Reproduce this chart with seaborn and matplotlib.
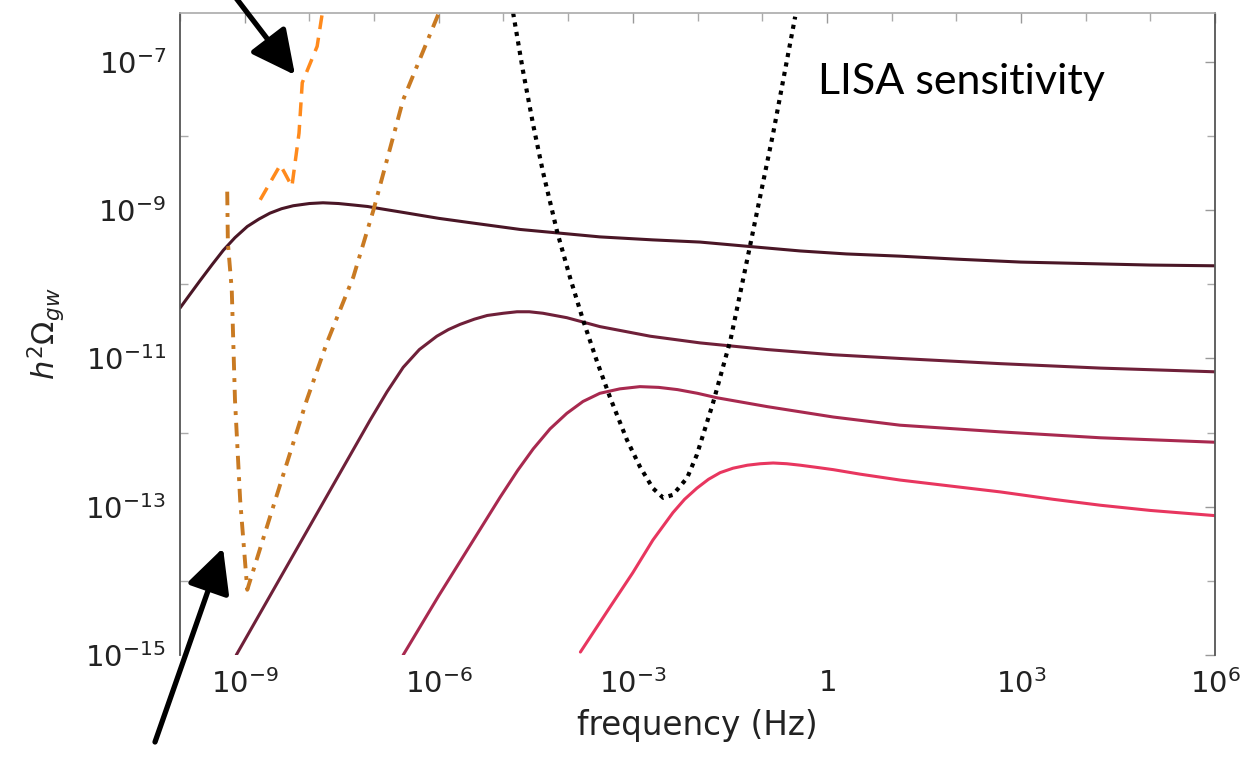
import numpy as np
import pandas as pd
import matplotlib
matplotlib.use("Agg")
import matplotlib.pyplot as plt
import seaborn as sns

# ---------------- data (log10 of frequency [Hz] and of h^2 Omega_gw) ----------------
c1_logf = [-10.0, -9.85, -9.69, -9.5, -9.33, -9.15, -8.96, -8.78, -8.61, -8.43, -8.25, -8.0,
           -7.79, -7.55, -7.32, -7.1, -6.9, -6.55, -6.0, -5.5, -4.74, -4.0, -3.51, -2.7, -1.96,
           -1.19, -0.41, 0.3, 1.13, 2.0, 3.0, 4.0, 5.0, 6.0]
c1_logO = [-10.32, -10.14, -9.95, -9.73, -9.54, -9.37, -9.22, -9.12, -9.04, -8.98, -8.94, -8.91,
           -8.90, -8.91, -8.93, -8.95, -8.98, -9.03, -9.11, -9.17, -9.26, -9.32, -9.36, -9.40, -9.43,
           -9.49, -9.55, -9.59, -9.62, -9.66, -9.70, -9.72, -9.74, -9.75]

c2_logf = [-9.13, -8.0, -7.06, -6.8, -6.55, -6.3, -6.03, -5.85, -5.67, -5.45, -5.25, -5.0,
           -4.79, -4.6, -4.39, -4.02, -3.51, -2.73, -1.96, -0.92, 0.10, 1.13, 2.68, 4.23, 6.0]
c2_logO = [-15.0, -13.27, -11.83, -11.45, -11.12, -10.88, -10.70, -10.61, -10.54, -10.47, -10.42,
           -10.39, -10.37, -10.37, -10.39, -10.45, -10.57, -10.70, -10.79, -10.88, -10.95, -11.0,
           -11.07, -11.13, -11.18]

c3_logf = [-6.55, -6.0, -5.5, -5.05, -4.78, -4.54, -4.28, -4.02, -3.77, -3.51, -3.2, -2.89,
           -2.6, -2.31, -2.0, -1.70, -0.92, 0.10, 1.13, 2.68, 4.23, 6.0]
c3_logO = [-15.0, -14.2, -13.5, -12.87, -12.51, -12.22, -11.95, -11.74, -11.58, -11.47, -11.41,
           -11.38, -11.39, -11.42, -11.47, -11.53, -11.65, -11.79, -11.90, -11.99, -12.07, -12.13]

c4_logf = [-3.81, -3.35, -3.0, -2.69, -2.38, -2.2, -2.01, -1.83, -1.65, -1.45, -1.23, -1.03,
           -0.83, -0.62, -0.41, -0.15, 0.10, 0.51, 1.13, 2.0, 2.68, 3.5, 4.23, 5.0, 6.0]
c4_logO = [-14.96, -14.35, -13.89, -13.45, -13.08, -12.90, -12.75, -12.63, -12.54, -12.48,
           -12.44, -12.42, -12.41, -12.42, -12.44, -12.47, -12.50, -12.56, -12.64, -12.73,
           -12.80, -12.90, -12.98, -13.05, -13.12]

lisa_logf = [-4.85, -4.70, -4.54, -4.39, -4.17, -3.97, -3.77, -3.55, -3.35, -3.09, -2.89, -2.69,
             -2.53, -2.38, -2.16, -2.01, -1.76, -1.49, -1.19, -0.83, -0.49]
lisa_logO = [-6.34, -7.11, -7.85, -8.48, -9.29, -9.91, -10.48, -11.05, -11.53, -12.10, -12.46,
             -12.75, -12.88, -12.84, -12.61, -12.30, -11.60, -10.75, -9.49, -7.96, -6.39]

pta_logf = [-8.76, -8.45, -8.38, -8.27, -8.16, -8.11, -7.88, -7.80]
pta_logO = [-8.86, -8.39, -8.50, -8.68, -7.96, -7.28, -6.79, -6.34]

pta2_logf = [-9.27, -9.26, -9.20, -9.15, -9.07, -8.96, -8.61, -8.04, -7.73, -7.32, -7.01, -6.55, -5.98]
pta2_logO = [-8.75, -9.44, -10.07, -11.56, -12.91, -14.12, -13.14, -11.56, -10.79, -9.90, -9.00,
             -7.51, -6.30]

x_tick_values = [1e-9, 1e-6, 1e-3, 1, 1e3, 1e6]
x_tick_labels = [r"$10^{-9}$", r"$10^{-6}$", r"$10^{-3}$", r"$1$", r"$10^{3}$", r"$10^{6}$"]
y_tick_values = [1e-15, 1e-13, 1e-11, 1e-9, 1e-7]
y_tick_labels = [r"$10^{-15}$", r"$10^{-13}$", r"$10^{-11}$", r"$10^{-9}$", r"$10^{-7}$"]
x_label = "frequency (Hz)"
y_label = r"$h^2\Omega_{gw}$"
annotation_text = "LISA sensitivity"

# ---------------- figure ----------------
sns.set_style("white")
plt.rcParams["font.family"] = ["DejaVu Sans"]
plt.rcParams["mathtext.fontset"] = "dejavusans"

fig = plt.figure(figsize=(12.49, 7.57), dpi=100)
ax = fig.add_axes([180 / 1249, 1 - 655 / 757, (1215 - 180) / 1249, (655 - 13) / 757])


def to_df(lf, lo):
    return pd.DataFrame({"f": np.power(10.0, lf), "omega": np.power(10.0, lo)})


curves = [
    (c1_logf, c1_logO, "#4a1626"),
    (c2_logf, c2_logO, "#6f2039"),
    (c3_logf, c3_logO, "#a8294f"),
    (c4_logf, c4_logO, "#e8365f"),
]
for lf, lo, col in curves:
    sns.lineplot(data=to_df(lf, lo), x="f", y="omega", sort=False, color=col, lw=2.2, ax=ax)

sns.lineplot(data=to_df(lisa_logf, lisa_logO), x="f", y="omega", sort=False, color="black",
             lw=3.0, ls=(0, (1, 1.3)), ax=ax)
sns.lineplot(data=to_df(pta_logf, pta_logO), x="f", y="omega", sort=False, color="#ff8a1c",
             lw=2.5, ls=(0, (4, 2.5)), ax=ax)
sns.lineplot(data=to_df(pta2_logf, pta2_logO), x="f", y="omega", sort=False, color="#c97a22",
             lw=2.8, ls=(0, (3.5, 2, 1, 2)), ax=ax)

ax.set_xscale("log")
ax.set_yscale("log")
ax.set_xlim(1e-10, 1e6)
ax.set_ylim(1e-15, 10 ** -6.34)

ax.xaxis.set_major_locator(matplotlib.ticker.FixedLocator(x_tick_values))
ax.xaxis.set_major_formatter(matplotlib.ticker.FixedFormatter(x_tick_labels))
ax.xaxis.set_minor_locator(matplotlib.ticker.FixedLocator([10.0 ** k for k in range(-10, 7)]))
ax.xaxis.set_minor_formatter(matplotlib.ticker.NullFormatter())
ax.yaxis.set_major_locator(matplotlib.ticker.FixedLocator(y_tick_values))
ax.yaxis.set_major_formatter(matplotlib.ticker.FixedFormatter(y_tick_labels))
ax.yaxis.set_minor_locator(matplotlib.ticker.FixedLocator([10.0 ** k for k in range(-15, -6)]))
ax.yaxis.set_minor_formatter(matplotlib.ticker.NullFormatter())

ax.tick_params(which="major", direction="in", length=7, width=1, color="#999999",
               labelsize=21, labelcolor="#222222", pad=10, top=True, right=True)
ax.tick_params(which="minor", direction="in", length=6, width=1, color="#aaaaaa",
               bottom=False, top=True, left=True, right=True)

ax.set_xlabel(x_label, fontsize=23.5, color="#222222", labelpad=7)
ax.set_ylabel(y_label, fontsize=22, color="#222222", labelpad=13)

for side in ["left", "right", "bottom"]:
    ax.spines[side].set_color("#555555")
    ax.spines[side].set_linewidth(1.3)
ax.spines["top"].set_color("#aaaaaa")
ax.spines["top"].set_linewidth(1.2)
ax.spines["bottom"].set_visible(False)

fig.text(818 / 1249, 1 - 82 / 757, annotation_text, fontsize=31, family="Lato",
         color="black", va="center", ha="left")

arrow_style = dict(arrowstyle="-|>,head_length=0.9,head_width=0.45", lw=3.8, color="black",
                   shrinkA=0, shrinkB=0, mutation_scale=30)
ax.annotate("", xy=(295 / 1249, 1 - 75 / 757), xytext=(236 / 1249, 1 + 2 / 757),
            xycoords="figure fraction", textcoords="figure fraction",
            arrowprops=arrow_style, annotation_clip=False)
ax.annotate("", xy=(223 / 1249, 1 - 548 / 757), xytext=(155 / 1249, 1 - 742 / 757),
            xycoords="figure fraction", textcoords="figure fraction",
            arrowprops=arrow_style, annotation_clip=False)

fig.savefig("out.png", dpi=100, facecolor="white")
